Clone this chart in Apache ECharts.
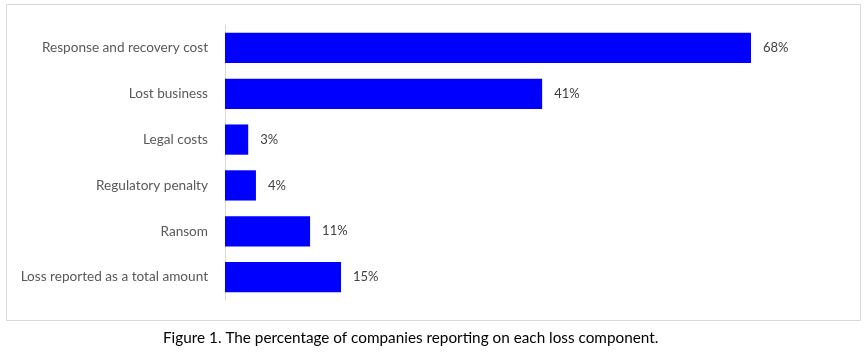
<!DOCTYPE html>
<html><head><meta charset="utf-8">
<script src="https://cdn.jsdelivr.net/npm/echarts@6/dist/echarts.min.js"></script>
<style>html,body{margin:0;padding:0;background:#fff}#c{width:867px;height:356px}</style>
</head><body><div id="c"></div>
<script>
const categories = ["Response and recovery cost","Lost business","Legal costs","Regulatory penalty","Ransom","Loss reported as a total amount"];
const values = [68, 41, 3, 4, 11, 15];
const caption = "Figure 1. The percentage of companies reporting on each loss component.";

const chart = echarts.init(document.getElementById('c'));
chart.setOption({
  animation: false,
  textStyle: {fontFamily: 'Lato'},
  graphic: [{type:'rect', shape:{x:6.5,y:4.5,width:854,height:316}, style:{fill:'none', stroke:'#d9d9d9', lineWidth:1}, z:-1}],
  title: {text: caption, left: 158, top: 326, textStyle:{fontFamily:'Lato', fontSize:15.3, fontWeight:'normal', color:'#000'}},
  grid: {left: 225, right: 116, top: 25, height: 275},
  xAxis: {type:'value', min:0, max:68, show:false},
  yAxis: {type:'category', data: categories, inverse:true,
    axisLine:{lineStyle:{color:'#d9d9d9'}}, axisTick:{show:false},
    axisLabel:{color:'#595959', fontSize:13.6, margin:17, fontFamily:'Lato'}},
  series: [{type:'bar', data: values, barCategoryGap:'34%',
    itemStyle:{color:'#0000ff'},
    label:{show:true, position:'right', distance:12, formatter:'{c}%', color:'#404040', fontSize:13, fontFamily:'Lato'}}]
});
</script></body></html>
